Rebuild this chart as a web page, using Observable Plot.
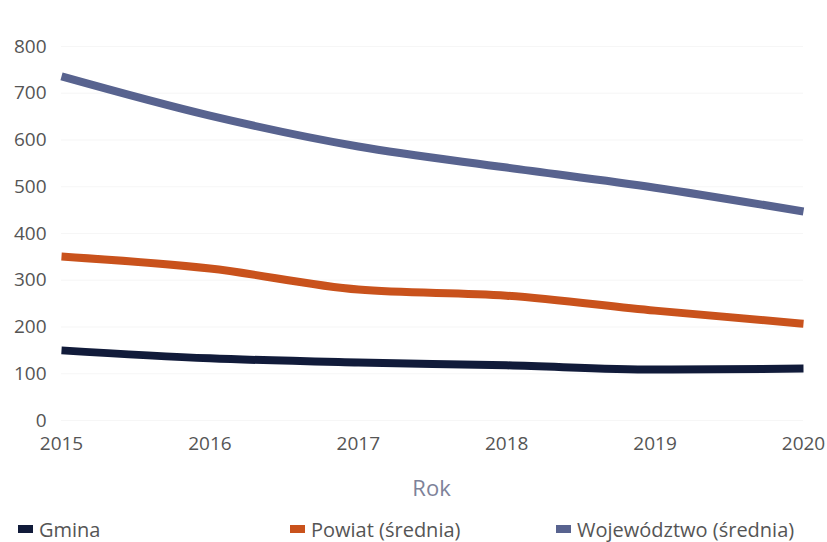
<!DOCTYPE html>
<html>
<head>
<meta charset="utf-8">
<script src="https://cdn.jsdelivr.net/npm/d3@7"></script>
<script src="https://cdn.jsdelivr.net/npm/@observablehq/plot@0.6"></script>
<style>
  body { margin: 0; background: #fff; font-family: "Open Sans", sans-serif; }
  #wrap { width: 827px; }
  #chart svg { display: block; }
  #xlabel { width: 827px; height: 30px; line-height: 30px; margin-top: 12px; text-align: center; padding-left: 36px; box-sizing: border-box; font-size: 22px; color: #7d8299; }
  #legend { position: relative; width: 827px; height: 30px; margin-top: 12px; font-size: 20px; color: #555; }
  .item { position: absolute; top: 0; display: flex; align-items: center; height: 30px; }
  .sw { width: 15px; height: 8px; margin-right: 6px; }
</style>
</head>
<body>
<div id="wrap">
  <div id="chart"></div>
  <div id="xlabel">Rok</div>
  <div id="legend"></div>
</div>
<script>
const years = [2015, 2016, 2017, 2018, 2019, 2020];
const seriesNames = ["Gmina", "Powiat (średnia)", "Województwo (średnia)"];
const gmina = [150, 133, 124, 118, 109, 111];
const powiat = [351, 325, 280, 267, 235, 207];
const wojewodztwo = [736, 652, 586, 541, 498, 447];
const colors = ["#111b3a", "#c9521c", "#58638f"];
const yTicks = [0, 100, 200, 300, 400, 500, 600, 700, 800];
const legendX = [18, 290, 556];

const valuesBySeries = [gmina, powiat, wojewodztwo];
const data = [];
seriesNames.forEach((s, i) => years.forEach((y, j) => data.push({series: s, year: y, value: valuesBySeries[i][j]})));

const chart = Plot.plot({
  width: 827,
  height: 460,
  marginTop: 46,
  marginBottom: 40,
  marginLeft: 61,
  marginRight: 24,
  style: {fontFamily: "'Open Sans', sans-serif", fontSize: "19px", color: "#555"},
  x: {domain: [2015, 2020], ticks: years, tickFormat: d => String(d), label: null},
  y: {domain: [0, 800], ticks: yTicks, label: null},
  color: {domain: seriesNames, range: colors},
  marks: [
    Plot.gridY(yTicks, {stroke: "#eee", strokeOpacity: 0.5}),
    Plot.axisX({ticks: years, tickSize: 0, tickPadding: 16, fontSize: 19, label: null, tickFormat: d => String(d)}),
    Plot.axisY({ticks: yTicks, tickSize: 0, tickPadding: 15, fontSize: 19, label: null}),
    Plot.line(data, {x: "year", y: "value", z: "series", stroke: "series", strokeWidth: 8, curve: "monotone-x", strokeLinecap: "butt", strokeLinejoin: "round"})
  ]
});
document.getElementById("chart").appendChild(chart);

const legend = document.getElementById("legend");
seriesNames.forEach((s, i) => {
  const it = document.createElement("div");
  it.className = "item";
  it.style.left = legendX[i] + "px";
  const sw = document.createElement("div");
  sw.className = "sw";
  sw.style.background = colors[i];
  const t = document.createElement("span");
  t.textContent = s;
  it.appendChild(sw); it.appendChild(t);
  legend.appendChild(it);
});
</script>
</body>
</html>
